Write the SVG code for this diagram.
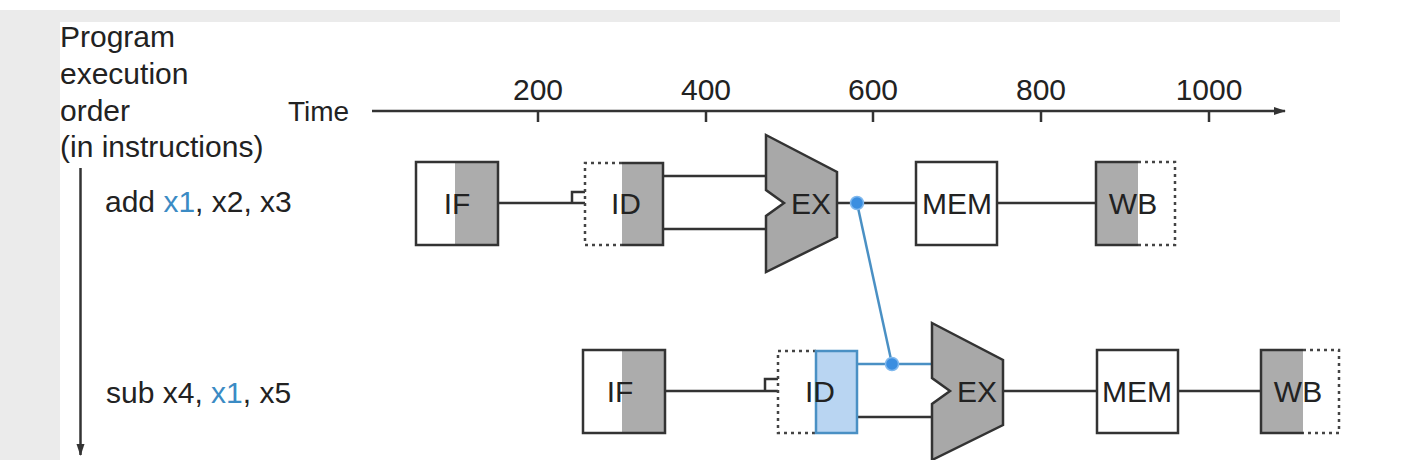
<svg xmlns="http://www.w3.org/2000/svg" width="1407" height="460" viewBox="0 0 1407 460">
<style>
text{font-family:"Liberation Sans",Arial,sans-serif;fill:#222}
.lbl{font-size:30px}
.box{font-size:30px;text-anchor:middle}
.tick{font-size:30px;text-anchor:middle}
.s{fill:none;stroke:#333;stroke-width:2.5}
.d{fill:none;stroke:#444;stroke-width:2.5;stroke-dasharray:3 4}
.g{fill:#acacac}
.w{fill:#fff}
.bl{fill:none;stroke:#4a90c4;stroke-width:2.5}
.blt{fill:#3b8bc4}
.dot{fill:#3a8ee0;stroke:#7fb8ee;stroke-width:1.5}
</style>
<defs>
<marker id="ah" markerWidth="12" markerHeight="10" refX="11" refY="5" orient="auto" markerUnits="userSpaceOnUse">
<path d="M0,1 L12,5 L0,9 Z" fill="#333"/>
</marker>
</defs>
<rect x="0" y="0" width="1407" height="460" fill="#fff"/>
<rect x="0" y="10" width="1340" height="450" fill="#ebebeb"/>
<rect x="60" y="22" width="1280" height="438" fill="#fff"/>

<g id="labels">
<text class="lbl" x="60" y="47">Program</text>
<text class="lbl" x="60" y="84">execution</text>
<text class="lbl" x="60" y="121">order</text>
<text class="lbl" x="60" y="157">(in instructions)</text>
<text x="288" y="121" style="font-size:28px">Time</text>
<text class="lbl" x="105" y="212">add <tspan class="blt">x1</tspan>, x2, x3</text>
<text class="lbl" x="106" y="403">sub x4, <tspan class="blt">x1</tspan>, x5</text>
</g>

<g id="time-axis">
<line x1="372" y1="111" x2="1285" y2="111" stroke="#333" stroke-width="2.5" marker-end="url(#ah)"/>
<g stroke="#333" stroke-width="2.5">
<line x1="538" y1="111" x2="538" y2="122"/>
<line x1="706" y1="111" x2="706" y2="122"/>
<line x1="873" y1="111" x2="873" y2="122"/>
<line x1="1041" y1="111" x2="1041" y2="122"/>
<line x1="1209" y1="111" x2="1209" y2="122"/>
</g>
<text class="tick" x="538" y="100">200</text>
<text class="tick" x="706" y="100">400</text>
<text class="tick" x="873" y="100">600</text>
<text class="tick" x="1041" y="100">800</text>
<text class="tick" x="1209" y="100">1000</text>
</g>

<g id="order-axis">
<line x1="80.5" y1="168" x2="80.5" y2="455" stroke="#333" stroke-width="2.5" marker-end="url(#ah)"/>
</g>

<g id="connectors">
<path class="s" d="M498,203 H585 M585,192 H572 V203"/>
<path class="s" d="M663,176 H766 M663,229 H766"/>
<path class="s" d="M837,203 H916"/>
<path class="s" d="M997,203 H1096"/>
<path class="s" d="M665,391 H778 M778,379 H765 V391"/>
<path class="bl" d="M857,364 H932"/>
<path class="s" d="M857,417 H932"/>
<path class="s" d="M1003,391 H1097"/>
<path class="s" d="M1178,391 H1261"/>
<path class="bl" d="M857,203 L892,364"/>
<circle class="dot" cx="857" cy="203" r="6.5"/>
<circle class="dot" cx="892" cy="364" r="6.5"/>
</g>

<g id="add-IF">
<rect class="w" x="416" y="162" width="39" height="83"/>
<rect class="g" x="455" y="162" width="43" height="83"/>
<rect class="s" x="416" y="162" width="82" height="83"/>
<text class="box" x="457" y="214">IF</text>
</g>
<g id="add-ID">
<rect class="g" x="622" y="163" width="41" height="82"/>
<path class="d" d="M622,163 H585 V245 H622"/>
<path class="s" d="M622,163 H663 V245 H622"/>
<text class="box" x="626" y="214">ID</text>
</g>
<g id="add-EX">
<polygon points="766,135 837,172 837,237 766,272 766,216 784,203 766,190" fill="#a8a8a8" stroke="#333" stroke-width="2.5" stroke-linejoin="miter"/>
<text class="box" x="811" y="214">EX</text>
</g>
<g id="add-MEM">
<rect class="w" x="916" y="162" width="81" height="83"/>
<rect class="s" x="916" y="162" width="81" height="83"/>
<text class="box" x="957" y="214">MEM</text>
</g>
<g id="add-WB">
<rect class="g" x="1096" y="162" width="42" height="83"/>
<path class="s" d="M1138,162 H1096 V245 H1138"/>
<path class="d" d="M1138,162 H1175 V245 H1138"/>
<text class="box" x="1133" y="214">WB</text>
</g>

<g id="sub-IF">
<rect class="w" x="583" y="350" width="39" height="83"/>
<rect class="g" x="622" y="350" width="43" height="83"/>
<rect class="s" x="583" y="350" width="82" height="83"/>
<text class="box" x="620" y="402">IF</text>
</g>
<g id="sub-ID">
<path class="d" d="M816,351 H778 V433 H816"/>
<rect x="816" y="351" width="41" height="82" fill="#b9d5f2" stroke="#4a90c4" stroke-width="2.5"/>
<text class="box" x="820" y="402">ID</text>
</g>
<g id="sub-EX">
<polygon points="932,323 1003,360 1003,425 932,460 932,404 950,391 932,378" fill="#a8a8a8" stroke="#333" stroke-width="2.5"/>
<text class="box" x="977" y="402">EX</text>
</g>
<g id="sub-MEM">
<rect class="w" x="1097" y="350" width="81" height="83"/>
<rect class="s" x="1097" y="350" width="81" height="83"/>
<text class="box" x="1137" y="402">MEM</text>
</g>
<g id="sub-WB">
<rect class="g" x="1261" y="350" width="42" height="83"/>
<path class="s" d="M1303,350 H1261 V433 H1303"/>
<path class="d" d="M1303,350 H1339 V433 H1303"/>
<text class="box" x="1298" y="402">WB</text>
</g>
</svg>
